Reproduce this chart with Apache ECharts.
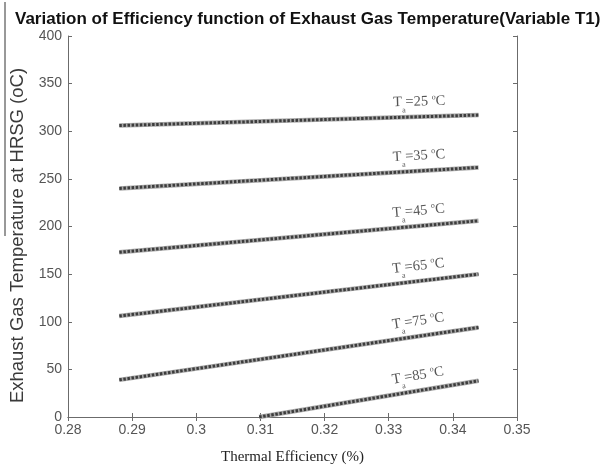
<!DOCTYPE html>
<html>
<head>
<meta charset="utf-8">
<script src="https://cdn.jsdelivr.net/npm/echarts@6/dist/echarts.min.js"></script>
<style>
html, body { margin: 0; padding: 0; background: #fff; }
#chart { width: 607px; height: 470px; }
</style>
</head>
<body>
<div id="chart"></div>
<script>
// Ambient temperature cases (°C)
const ambientTemps = [25, 35, 45, 65, 75, 85];
// Thermal efficiency at the start and end of each line
const effStart = [0.288, 0.288, 0.288, 0.288, 0.288, 0.3098];
const effEnd   = [0.344, 0.344, 0.344, 0.344, 0.344, 0.344];
// Exhaust gas temperature at HRSG (oC) at those efficiencies
const tempStart = [306, 240, 173, 106, 39, 0];
const tempEnd   = [317, 262, 206, 150, 94, 38];
// Efficiency at which each case label sits
const labelEff = 0.3348;

const chart = echarts.init(document.getElementById('chart'), null, { renderer: 'canvas' });

const axisGray = '#6b6b6b';
const tickFont = { color: '#555', fontSize: 14, fontFamily: 'Liberation Sans, Arial, sans-serif' };
const serif = 'Liberation Serif, Times New Roman, serif';

function lineData(i) {
  return [[effStart[i], tempStart[i]], [effEnd[i], tempEnd[i]]];
}
function labelPoint(i) {
  const t = (labelEff - effStart[i]) / (effEnd[i] - effStart[i]);
  return [labelEff, tempStart[i] + t * (tempEnd[i] - tempStart[i])];
}

function buildSeries(angles) {
  const series = [];
  ambientTemps.forEach((T, i) => {
    series.push({
      type: 'line', data: lineData(i), symbol: 'none', silent: true,
      lineStyle: { color: '#a8a8a8', width: 4.5 }, z: 2
    });
    series.push({
      type: 'line', data: lineData(i), symbol: 'none', silent: true,
      lineStyle: { color: '#3c3c3c', width: 3, type: [2.5, 1.6] }, z: 3
    });
  });
  series.push({
    type: 'scatter', symbolSize: 0, silent: true, z: 4,
    data: ambientTemps.map((T, i) => ({
      value: labelPoint(i),
      label: {
        show: true, position: 'top', distance: 5,
        rotate: angles ? angles[i] : 0,
        formatter: '{t|T}{s|a}{t|=' + T + ' }{o|o}{t|C}'
      }
    })),
    label: {
      rich: {
        t: { fontFamily: serif, fontSize: 14.5, color: '#2a2a2a', lineHeight: 20, verticalAlign: 'middle' },
        s: { fontFamily: serif, fontSize: 8, color: '#2a2a2a', lineHeight: 20, verticalAlign: 'bottom', padding: [0, 0, -2, 0] },
        o: { fontFamily: serif, fontSize: 8, color: '#2a2a2a', lineHeight: 20, verticalAlign: 'top', padding: [2, 0, 0, 0] }
      }
    }
  });
  return series;
}

const option = {
  animation: false,
  backgroundColor: '#fff',
  title: {
    text: 'Variation of Efficiency function of Exhaust Gas Temperature(Variable T1)',
    left: 10, top: 6,
    textStyle: { fontFamily: 'Liberation Sans, Arial, sans-serif', fontWeight: 'bold', fontSize: 17, color: '#111' }
  },
  graphic: [{
    type: 'line', shape: { x1: 5, y1: 2, x2: 5, y2: 236 },
    style: { stroke: '#333', lineWidth: 1 }, silent: true
  }],
  grid: { left: 62, right: 90, top: 36, bottom: 46 },
  xAxis: [{
    type: 'value', min: 0.28, max: 0.35, interval: 0.01,
    name: 'Thermal Efficiency (%)', nameLocation: 'middle', nameGap: 33,
    nameTextStyle: { fontFamily: serif, fontSize: 15, color: '#222' },
    axisLine: { show: true, lineStyle: { color: axisGray, width: 1 } },
    axisTick: { show: true, inside: true, length: 4, lineStyle: { color: axisGray } },
    axisLabel: Object.assign({ margin: 6 }, tickFont),
    splitLine: { show: false }
  }, {
    type: 'value', position: 'top', min: 0.28, max: 0.35, interval: 0.01,
    axisLine: { show: true, lineStyle: { color: axisGray, width: 1 } },
    axisTick: { show: true, inside: true, length: 4, lineStyle: { color: axisGray } },
    axisLabel: { show: false }, splitLine: { show: false }
  }],
  yAxis: [{
    type: 'value', min: 0, max: 400, interval: 50,
    name: 'Exhaust Gas Temperature at HRSG (oC)', nameLocation: 'middle', nameGap: 41,
    nameTextStyle: { fontFamily: 'Liberation Sans, Arial, sans-serif', fontSize: 18.5, color: '#3a3a3a', padding: [0, 18, 0, 0] },
    axisLine: { show: true, lineStyle: { color: axisGray, width: 1 } },
    axisTick: { show: true, inside: true, length: 4, lineStyle: { color: axisGray } },
    axisLabel: Object.assign({ margin: 6 }, tickFont),
    splitLine: { show: false }
  }, {
    type: 'value', position: 'right', min: 0, max: 400, interval: 50,
    axisLine: { show: true, lineStyle: { color: axisGray, width: 1 } },
    axisTick: { show: true, inside: true, length: 4, lineStyle: { color: axisGray } },
    axisLabel: { show: false }, splitLine: { show: false }
  }],
  series: buildSeries(null)
};

chart.setOption(option);

// Tilt each case label to follow its line on screen
const angles = ambientTemps.map((T, i) => {
  const p0 = chart.convertToPixel({ xAxisIndex: 0, yAxisIndex: 0 }, [effStart[i], tempStart[i]]);
  const p1 = chart.convertToPixel({ xAxisIndex: 0, yAxisIndex: 0 }, [effEnd[i], tempEnd[i]]);
  return Math.atan2(p0[1] - p1[1], p1[0] - p0[0]) * 180 / Math.PI;
});
chart.setOption({ series: buildSeries(angles) });
</script>
</body>
</html>
